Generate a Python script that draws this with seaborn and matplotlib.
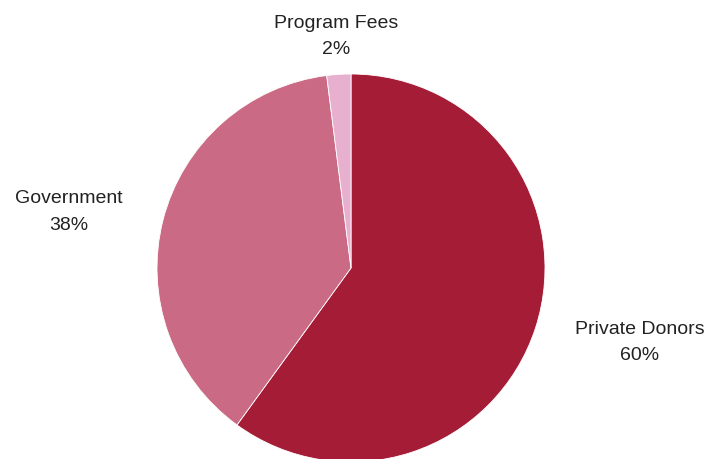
import matplotlib
matplotlib.use("Agg")
import matplotlib.pyplot as plt
import seaborn as sns
import numpy as np

sources = ["Private Donors", "Government", "Program Fees"]
shares = [60, 38, 2]
colors = ["#A51C36", "#CB6A84", "#E8B0CF"]
# label distance (in radii) and small angular nudge (deg) from wedge middle
label_dist = [1.538, 1.485, 1.198]
label_nudge = [3.5, 3.2, 0.1]

sns.set_theme(style="white")
plt.rcParams['font.family'] = ['Liberation Sans', 'DejaVu Sans']

fig = plt.figure(figsize=(7.22, 4.59), dpi=100)
ax = fig.add_axes([0, 0, 1, 1])

wedges, texts = ax.pie(shares, colors=colors, startangle=90, counterclock=False,
                       labels=[f"{s}\n{v}%" for s, v in zip(sources, shares)],
                       labeldistance=1.5,
                       wedgeprops=dict(edgecolor="white", linewidth=0.6),
                       textprops=dict(fontsize=14, color="#222222", ha="center",
                                      va="center", linespacing=1.7))

for w, t, d, n in zip(wedges, texts, label_dist, label_nudge):
    ang = np.deg2rad((w.theta1 + w.theta2) / 2 + n)
    t.set_position((d * np.cos(ang), d * np.sin(ang)))
    t.set_ha("center")

scale = 194.0
ax.set_xlim(-351 / scale, (722 - 351) / scale)
ax.set_ylim(-(459 - 268) / scale, 268 / scale)
ax.set_aspect("auto")
ax.axis("off")

fig.savefig("out.png", dpi=100)
